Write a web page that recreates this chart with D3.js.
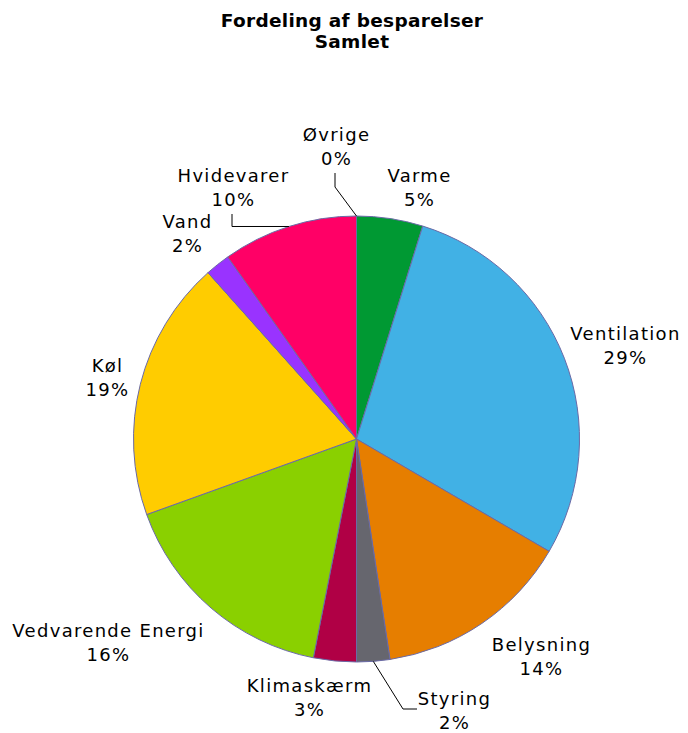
<!DOCTYPE html>
<html>
<head>
<meta charset="utf-8">
<script src="https://cdn.jsdelivr.net/npm/d3@7"></script>
<style>
  body { margin: 0; background: #fff; }
  text { font-family: "DejaVu Sans", Verdana, sans-serif; }
</style>
</head>
<body>
<div id="chart"></div>
<script>
var categories = ["Varme", "Ventilation", "Belysning", "Styring", "Klimaskærm",
  "Vedvarende Energi", "Køl", "Vand", "Hvidevarer", "Øvrige"];
var savings = [4.8, 28.6, 14.2, 2.4, 3.1, 16.4, 18.9, 1.8, 9.8, 0];
var colors = ["#009933", "#41b1e5", "#e67e00", "#66666e", "#b00045",
  "#8ad000", "#ffcc00", "#9933ff", "#ff0066", "#cccccc"];
var titleLines = ["Fordeling af besparelser", "Samlet"];

var width = 688, height = 733;
var cx = 356.5, cy = 439, radius = 223;

// label anchors (text centre x, first baseline y) relative to pie centre
var labelPos = {
  "Varme": [63, -257],
  "Ventilation": [269, -99],
  "Belysning": [185, 212],
  "Styring": [98, 266],
  "Klimaskærm": [-47, 253],
  "Vedvarende Energi": [-248, 198],
  "Køl": [-249, -67],
  "Vand": [-169, -211],
  "Hvidevarer": [-123, -257],
  "Øvrige": [-20, -298]
};

var svg = d3.select("#chart").append("svg")
  .attr("width", width).attr("height", height);

svg.append("g").selectAll("text")
  .data(titleLines)
  .enter().append("text")
  .attr("x", 352)
  .attr("y", function(d, i) { return 27 + i * 21; })
  .attr("text-anchor", "middle")
  .attr("font-weight", "bold")
  .attr("font-size", 18.5)
  .attr("letter-spacing", 0.3)
  .attr("fill", "#000")
  .text(function(d) { return d; });

var total = d3.sum(savings);
var data = categories.map(function(c, i) { return {name: c, value: savings[i], color: colors[i]}; });

var pie = d3.pie().sort(null).value(function(d) { return d.value; });
var arcs = pie(data);
var arc = d3.arc().innerRadius(0).outerRadius(radius);

var g = svg.append("g").attr("transform", "translate(" + cx + "," + cy + ")");

g.selectAll("path.slice")
  .data(arcs)
  .enter().append("path")
  .attr("class", "slice")
  .attr("d", arc)
  .attr("fill", function(d) { return d.data.color; })
  .attr("stroke", "#6a6aa6")
  .attr("stroke-width", 1);

var pointOnEdge = function(d) {
  var a = (d.startAngle + d.endAngle) / 2;
  return [Math.sin(a) * radius, -Math.cos(a) * radius];
};

// leader lines for the small / crowded slices
var leaders = {
  "Øvrige": function(p) { return [p, [-21.5, -252], [-21.5, -266]]; },
  "Hvidevarer": function(p) { return [p, [-124.5, p[1]], [-124.5, -225]]; },
  "Styring": function(p) { return [p, [46.5, 270], [60.5, 270]]; }
};

var lineGen = d3.line();
g.selectAll("path.leader")
  .data(arcs.filter(function(d) { return leaders[d.data.name]; }))
  .enter().append("path")
  .attr("class", "leader")
  .attr("fill", "none")
  .attr("stroke", "#000")
  .attr("stroke-width", 1)
  .attr("d", function(d) { return lineGen(leaders[d.data.name](pointOnEdge(d))); });

var label = g.selectAll("g.label")
  .data(arcs)
  .enter().append("g")
  .attr("class", "label")
  .attr("transform", function(d) {
    var p = labelPos[d.data.name];
    return "translate(" + p[0] + "," + p[1] + ")";
  });

label.append("text")
  .attr("text-anchor", "middle")
  .attr("font-size", 18)
  .attr("letter-spacing", 1.3)
  .attr("fill", "#000")
  .text(function(d) { return d.data.name; });

label.append("text")
  .attr("text-anchor", "middle")
  .attr("y", 24)
  .attr("font-size", 18)
  .attr("letter-spacing", 1.3)
  .attr("fill", "#000")
  .text(function(d) { return Math.round(d.data.value / total * 100) + "%"; });
</script>
</body>
</html>
